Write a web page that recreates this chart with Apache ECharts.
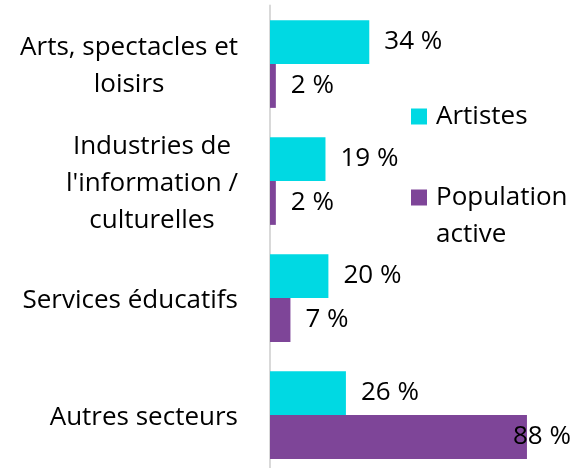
<!DOCTYPE html>
<html>
<head>
<meta charset="utf-8">
<script src="https://cdn.jsdelivr.net/npm/echarts@6/dist/echarts.min.js"></script>
<style>
  html, body { margin: 0; padding: 0; background: #fff; }
  #chart { width: 576px; height: 468px; }
</style>
</head>
<body>
<div id="chart"></div>
<script>
const categories = [
  'Arts, spectacles et\nloisirs',
  'Industries de\nl\'information /\nculturelles',
  'Services éducatifs',
  'Autres secteurs'
];
const artistes = [34, 19, 20, 26];
const population = [2, 2, 7, 88];
const seriesNames = ['Artistes', 'Population active'];

const font = '"Open Sans", "Noto Sans", sans-serif';
const fontSize = 26;

const chart = echarts.init(document.getElementById('chart'));

function labelOpt(dist) {
  return {
    show: true,
    position: 'right',
    distance: dist,
    formatter: '{c} %',
    color: '#000',
    fontFamily: font,
    fontSize: fontSize
  };
}

chart.setOption({
  animation: false,
  grid: { left: 270, top: 5.5, width: 292, height: 468, outerBoundsMode: 'none', containLabel: false },
  legend: {
    orient: 'vertical',
    left: 406,
    top: 93,
    itemGap: 7,
    itemWidth: 16,
    itemHeight: 16,
    icon: 'rect',
    textStyle: { fontFamily: font, fontSize: fontSize, color: '#000', lineHeight: 37, padding: [0, 0, 0, 4] },
    // leading empty line keeps the icon level with the first line of a wrapped name
    formatter: function (name) {
      return name.indexOf(' ') > 0 ? '\n' + name.replace(' ', '\n') : name;
    },
    data: seriesNames
  },
  xAxis: {
    type: 'value',
    min: 0,
    max: 100,
    show: false
  },
  yAxis: {
    type: 'category',
    inverse: true,
    data: categories,
    axisLine: { show: true, lineStyle: { color: '#d9d9d9', width: 2 } },
    axisTick: { show: false },
    axisLabel: {
      margin: 32,
      align: 'right',
      color: '#000',
      fontFamily: font,
      fontSize: fontSize,
      lineHeight: 37,
      padding: [5, 0, 0, 0],
      formatter: function (v) {
        return v.split('\n').map(function (l) { return '{c|' + l + '}'; }).join('\n');
      },
      rich: {
        c: { align: 'center', fontFamily: font, fontSize: fontSize, lineHeight: 37, color: '#000' }
      }
    }
  },
  series: [
    {
      name: seriesNames[0],
      type: 'bar',
      barGap: 0,
      barCategoryGap: '25%',
      itemStyle: { color: '#00D9E3' },
      label: labelOpt(15),
      data: artistes
    },
    {
      name: seriesNames[1],
      type: 'bar',
      barGap: 0,
      barCategoryGap: '25%',
      itemStyle: { color: '#7E4598' },
      label: labelOpt(15),
      data: population.map(function (v) {
        return v > 80 ? { value: v, label: { distance: -14 } } : v;
      })
    }
  ]
});
</script>
</body>
</html>
